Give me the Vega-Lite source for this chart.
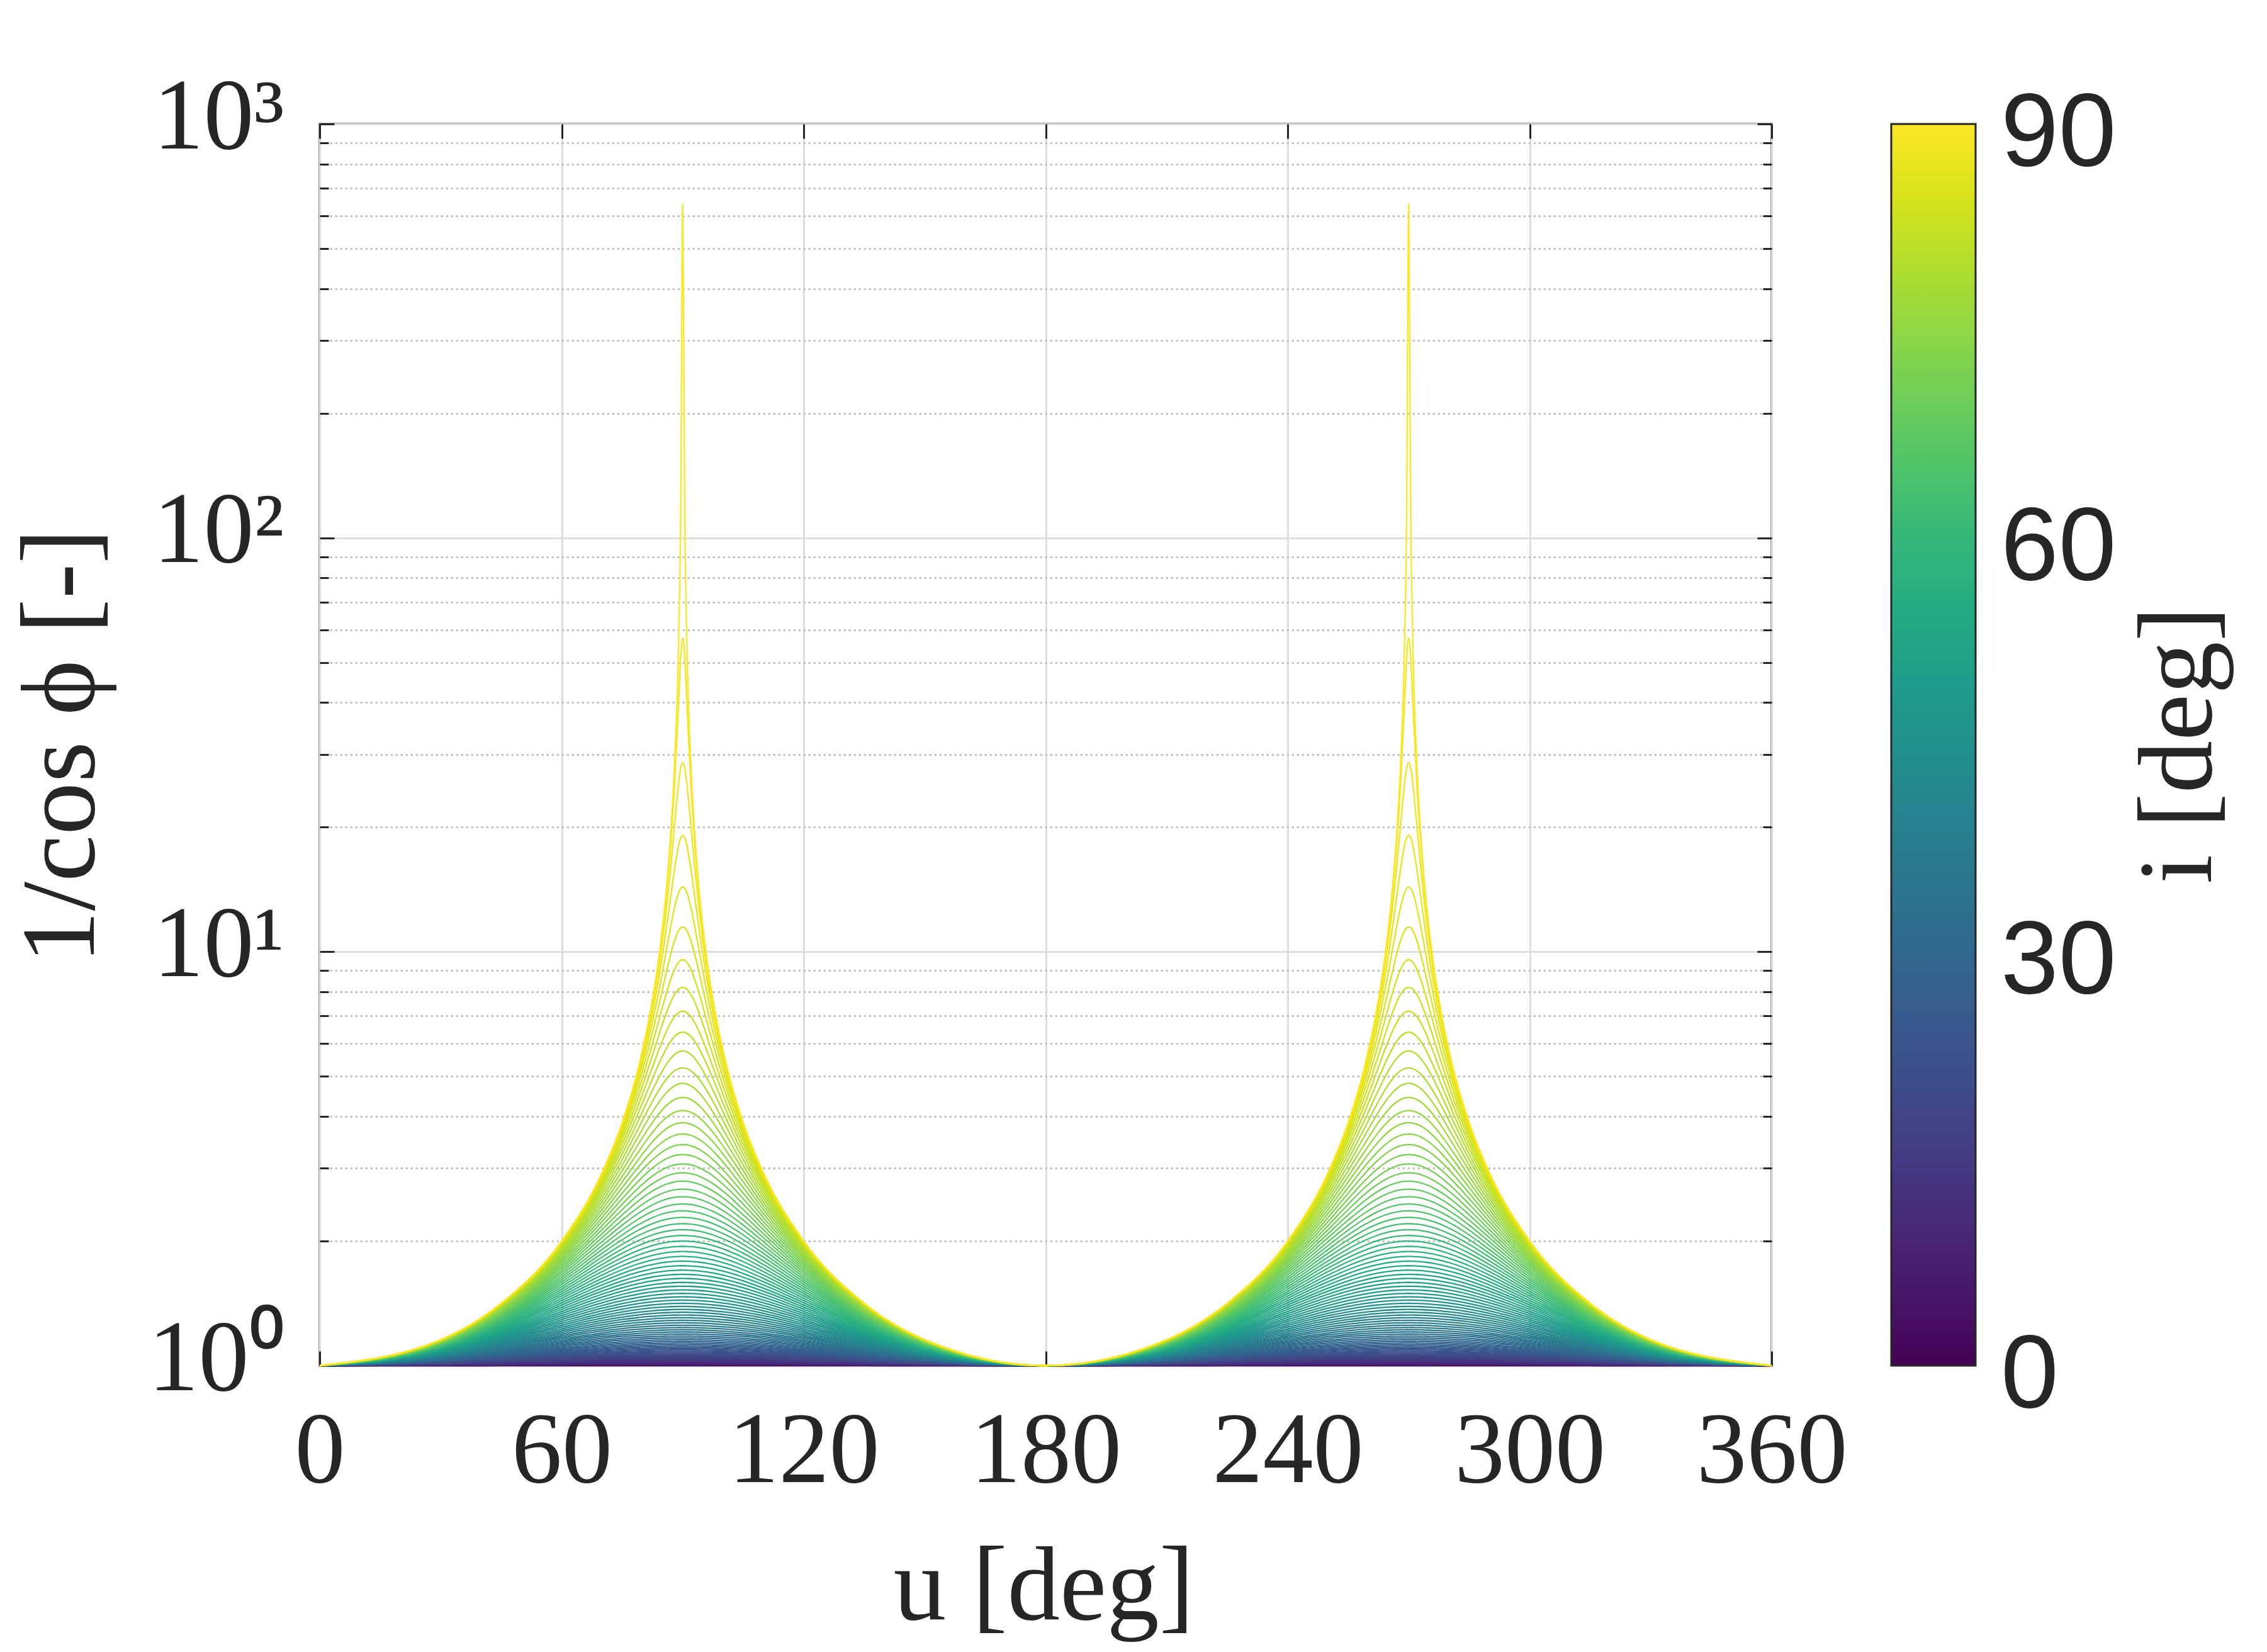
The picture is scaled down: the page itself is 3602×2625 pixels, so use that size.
{
  "$schema": "https://vega.github.io/schema/vega-lite/v6.json",
  "width": 2307,
  "height": 1973,
  "autosize": {"type": "none"},
  "padding": {"left": 508, "top": 197, "right": 787, "bottom": 455},
  "background": "white",
  "layer": [
    {
      "data": {
        "values": [
          {"a":90,"b":null,"c":270,"d":null,"0":1,"1":1.0002,"2":1.0006,"3":1.0014,"4":1.0024,"5":1.0038,"6":1.0055,"7":1.0075,"8":1.0098,"9":1.0125,"10":1.0154,"11":1.0187,"12":1.0223,"13":1.0263,"14":1.0306,"15":1.0353,"16":1.0403,"17":1.0457,"18":1.0515,"19":1.0576,"20":1.0642,"21":1.0711,"22":1.0785,"23":1.0864,"24":1.0946,"25":1.1034,"26":1.1126,"27":1.1223,"28":1.1326,"29":1.1434,"30":1.1547,"31":1.1666,"32":1.1792,"33":1.1924,"34":1.2062,"35":1.2208,"36":1.2361,"37":1.2521,"38":1.269,"39":1.2868,"40":1.3054,"41":1.325,"42":1.3456,"43":1.3673,"44":1.3902,"45":1.4142,"46":1.4396,"47":1.4663,"48":1.4945,"49":1.5243,"50":1.5557,"51":1.589,"52":1.6243,"53":1.6616,"54":1.7013,"55":1.7434,"56":1.7883,"57":1.8361,"58":1.8871,"59":1.9416,"60":2,"61":2.0627,"62":2.1301,"63":2.2027,"64":2.2812,"65":2.3662,"66":2.4586,"67":2.5593,"68":2.6695,"69":2.7904,"70":2.9238,"71":3.0716,"72":3.2361,"73":3.4203,"74":3.628,"75":3.8637,"76":4.1336,"77":4.4454,"78":4.8097,"79":5.2408,"80":5.7588,"81":6.3925,"82":7.1853,"83":8.2055,"84":9.5668,"85":11.474,"86":14.336,"87":19.107,"88":28.654,"89":57.299,"90":640},
          {"a":89.5,"b":90.5,"c":269.5,"d":270.5,"0":1,"1":1.0002,"2":1.0006,"3":1.0014,"4":1.0024,"5":1.0038,"6":1.0055,"7":1.0075,"8":1.0098,"9":1.0125,"10":1.0154,"11":1.0187,"12":1.0223,"13":1.0263,"14":1.0306,"15":1.0353,"16":1.0403,"17":1.0457,"18":1.0515,"19":1.0576,"20":1.0642,"21":1.0711,"22":1.0785,"23":1.0864,"24":1.0946,"25":1.1034,"26":1.1126,"27":1.1223,"28":1.1326,"29":1.1433,"30":1.1547,"31":1.1666,"32":1.1792,"33":1.1923,"34":1.2062,"35":1.2208,"36":1.236,"37":1.2521,"38":1.269,"39":1.2867,"40":1.3054,"41":1.325,"42":1.3456,"43":1.3673,"44":1.3901,"45":1.4142,"46":1.4395,"47":1.4662,"48":1.4944,"49":1.5242,"50":1.5556,"51":1.5889,"52":1.6242,"53":1.6615,"54":1.7012,"55":1.7433,"56":1.7881,"57":1.8359,"58":1.8869,"59":1.9414,"60":1.9998,"61":2.0624,"62":2.1298,"63":2.2024,"64":2.2808,"65":2.3658,"66":2.4581,"67":2.5588,"68":2.6688,"69":2.7897,"70":2.923,"71":3.0706,"72":3.2349,"73":3.4189,"74":3.6263,"75":3.8617,"76":4.131,"77":4.4422,"78":4.8057,"79":5.2356,"80":5.7517,"81":6.3828,"82":7.1715,"83":8.1849,"84":9.534,"85":11.417,"86":14.225,"87":18.848,"88":27.799,"89":51.251,"90":114.59},
          {"a":89,"b":91,"c":269,"d":271,"0":1,"1":1.0002,"2":1.0006,"3":1.0014,"4":1.0024,"5":1.0038,"6":1.0055,"7":1.0075,"8":1.0098,"9":1.0125,"10":1.0154,"11":1.0187,"12":1.0223,"13":1.0263,"14":1.0306,"15":1.0353,"16":1.0403,"17":1.0457,"18":1.0515,"19":1.0576,"20":1.0642,"21":1.0711,"22":1.0785,"23":1.0863,"24":1.0946,"25":1.1033,"26":1.1126,"27":1.1223,"28":1.1325,"29":1.1433,"30":1.1546,"31":1.1666,"32":1.1791,"33":1.1923,"34":1.2061,"35":1.2207,"36":1.236,"37":1.252,"38":1.2689,"39":1.2866,"40":1.3053,"41":1.3249,"42":1.3455,"43":1.3671,"44":1.39,"45":1.414,"46":1.4393,"47":1.466,"48":1.4942,"49":1.5239,"50":1.5554,"51":1.5886,"52":1.6239,"53":1.6612,"54":1.7008,"55":1.7429,"56":1.7877,"57":1.8354,"58":1.8863,"59":1.9408,"60":1.9991,"61":2.0616,"62":2.1289,"63":2.2014,"64":2.2797,"65":2.3645,"66":2.4567,"67":2.5571,"68":2.667,"69":2.7875,"70":2.9205,"71":3.0676,"72":3.2314,"73":3.4147,"74":3.6213,"75":3.8555,"76":4.1235,"77":4.4328,"78":4.7936,"79":5.2198,"80":5.7308,"81":6.354,"82":7.1305,"83":8.1238,"84":9.4375,"85":11.252,"86":13.909,"87":18.129,"88":25.631,"89":40.519,"90":57.299},
          {"a":88,"b":92,"c":268,"d":272,"0":1,"1":1.0002,"2":1.0006,"3":1.0014,"4":1.0024,"5":1.0038,"6":1.0055,"7":1.0075,"8":1.0098,"9":1.0124,"10":1.0154,"11":1.0187,"12":1.0223,"13":1.0263,"14":1.0306,"15":1.0352,"16":1.0402,"17":1.0456,"18":1.0514,"19":1.0575,"20":1.0641,"21":1.071,"22":1.0784,"23":1.0862,"24":1.0945,"25":1.1032,"26":1.1124,"27":1.1221,"28":1.1324,"29":1.1431,"30":1.1545,"31":1.1664,"32":1.1789,"33":1.1921,"34":1.2059,"35":1.2204,"36":1.2357,"37":1.2517,"38":1.2685,"39":1.2862,"40":1.3048,"41":1.3244,"42":1.345,"43":1.3666,"44":1.3894,"45":1.4134,"46":1.4386,"47":1.4653,"48":1.4934,"49":1.523,"50":1.5544,"51":1.5875,"52":1.6227,"53":1.6599,"54":1.6993,"55":1.7413,"56":1.7859,"57":1.8334,"58":1.8841,"59":1.9383,"60":1.9964,"61":2.0586,"62":2.1255,"63":2.1975,"64":2.2754,"65":2.3596,"66":2.4511,"67":2.5507,"68":2.6596,"69":2.779,"70":2.9105,"71":3.0559,"72":3.2177,"73":3.3984,"74":3.6015,"75":3.8313,"76":4.0937,"77":4.3955,"78":4.7462,"79":5.1584,"80":5.6492,"81":6.2427,"82":6.9735,"83":7.8929,"84":9.0794,"85":10.657,"86":12.827,"87":15.904,"88":20.267,"89":25.631,"90":28.654},
          {"a":87,"b":93,"c":267,"d":273,"0":1,"1":1.0002,"2":1.0006,"3":1.0014,"4":1.0024,"5":1.0038,"6":1.0055,"7":1.0075,"8":1.0098,"9":1.0124,"10":1.0154,"11":1.0187,"12":1.0223,"13":1.0262,"14":1.0305,"15":1.0352,"16":1.0402,"17":1.0456,"18":1.0513,"19":1.0574,"20":1.064,"21":1.0709,"22":1.0783,"23":1.0861,"24":1.0943,"25":1.103,"26":1.1122,"27":1.1219,"28":1.1321,"29":1.1429,"30":1.1542,"31":1.1661,"32":1.1785,"33":1.1917,"34":1.2055,"35":1.22,"36":1.2352,"37":1.2512,"38":1.268,"39":1.2856,"40":1.3041,"41":1.3236,"42":1.3441,"43":1.3657,"44":1.3884,"45":1.4123,"46":1.4374,"47":1.464,"48":1.492,"49":1.5215,"50":1.5527,"51":1.5857,"52":1.6206,"53":1.6577,"54":1.6969,"55":1.7386,"56":1.7829,"57":1.8301,"58":1.8805,"59":1.9343,"60":1.9918,"61":2.0535,"62":2.1198,"63":2.1912,"64":2.2682,"65":2.3515,"66":2.4418,"67":2.5401,"68":2.6474,"69":2.7649,"70":2.8941,"71":3.0367,"72":3.1949,"73":3.3713,"74":3.569,"75":3.7921,"76":4.0454,"77":4.3354,"78":4.6703,"79":5.0606,"80":5.5207,"81":6.0697,"82":6.7336,"83":7.5484,"84":8.5638,"85":9.846,"86":11.477,"87":13.52,"88":15.904,"89":18.129,"90":19.107},
          {"a":86,"b":94,"c":266,"d":274,"0":1,"1":1.0002,"2":1.0006,"3":1.0014,"4":1.0024,"5":1.0038,"6":1.0055,"7":1.0075,"8":1.0098,"9":1.0124,"10":1.0154,"11":1.0186,"12":1.0222,"13":1.0262,"14":1.0305,"15":1.0351,"16":1.0401,"17":1.0455,"18":1.0512,"19":1.0573,"20":1.0638,"21":1.0708,"22":1.0781,"23":1.0859,"24":1.0941,"25":1.1028,"26":1.112,"27":1.1216,"28":1.1318,"29":1.1425,"30":1.1538,"31":1.1656,"32":1.1781,"33":1.1911,"34":1.2049,"35":1.2193,"36":1.2345,"37":1.2504,"38":1.2671,"39":1.2847,"40":1.3032,"41":1.3226,"42":1.343,"43":1.3644,"44":1.387,"45":1.4108,"46":1.4358,"47":1.4622,"48":1.49,"49":1.5194,"50":1.5504,"51":1.5832,"52":1.6178,"53":1.6546,"54":1.6935,"55":1.7349,"56":1.7788,"57":1.8256,"58":1.8755,"59":1.9287,"60":1.9856,"61":2.0465,"62":2.1119,"63":2.1824,"64":2.2582,"65":2.3402,"66":2.429,"67":2.5254,"68":2.6306,"69":2.7455,"70":2.8716,"71":3.0104,"72":3.164,"73":3.3346,"74":3.5252,"75":3.7391,"76":3.9807,"77":4.2554,"78":4.5699,"79":4.9328,"80":5.355,"81":5.8477,"82":6.4361,"83":7.1345,"84":7.971,"85":8.971,"86":10.149,"87":11.477,"88":12.827,"89":13.909,"90":14.336},
          {"a":84,"b":96,"c":264,"d":276,"0":1,"1":1.0002,"2":1.0006,"3":1.0014,"4":1.0024,"5":1.0038,"6":1.0055,"7":1.0074,"8":1.0097,"9":1.0123,"10":1.0153,"11":1.0185,"12":1.0221,"13":1.026,"14":1.0303,"15":1.0349,"16":1.0398,"17":1.0452,"18":1.0509,"19":1.0569,"20":1.0634,"21":1.0703,"22":1.0776,"23":1.0853,"24":1.0935,"25":1.1021,"26":1.1112,"27":1.1207,"28":1.1308,"29":1.1414,"30":1.1526,"31":1.1643,"32":1.1767,"33":1.1896,"34":1.2032,"35":1.2175,"36":1.2325,"37":1.2483,"38":1.2648,"39":1.2822,"40":1.3004,"41":1.3196,"42":1.3397,"43":1.3609,"44":1.3831,"45":1.4066,"46":1.4312,"47":1.4572,"48":1.4845,"49":1.5134,"50":1.5438,"51":1.5759,"52":1.6099,"53":1.6459,"54":1.684,"55":1.7243,"56":1.7672,"57":1.8127,"58":1.8612,"59":1.9129,"60":1.968,"61":2.0269,"62":2.0901,"63":2.1578,"64":2.2305,"65":2.3089,"66":2.3935,"67":2.4851,"68":2.5844,"69":2.6924,"70":2.8102,"71":2.9391,"72":3.0806,"73":3.2364,"74":3.4085,"75":3.5995,"76":3.8121,"77":4.0497,"78":4.3161,"79":4.6158,"80":4.9538,"81":5.3353,"82":5.7655,"83":6.2482,"84":6.7833,"85":7.364,"86":7.971,"87":8.564,"88":9.079,"89":9.438,"90":9.567},
          {"a":82,"b":98,"c":262,"d":278,"0":1,"1":1.0002,"2":1.0006,"3":1.0013,"4":1.0024,"5":1.0037,"6":1.0054,"7":1.0074,"8":1.0096,"9":1.0122,"10":1.0151,"11":1.0183,"12":1.0219,"13":1.0258,"14":1.03,"15":1.0346,"16":1.0395,"17":1.0447,"18":1.0504,"19":1.0564,"20":1.0628,"21":1.0696,"22":1.0768,"23":1.0845,"24":1.0925,"25":1.1011,"26":1.11,"27":1.1195,"28":1.1295,"29":1.14,"30":1.151,"31":1.1626,"32":1.1747,"33":1.1875,"34":1.2009,"35":1.215,"36":1.2298,"37":1.2453,"38":1.2616,"39":1.2787,"40":1.2966,"41":1.3154,"42":1.3352,"43":1.3553,"44":1.3778,"45":1.4007,"46":1.4248,"47":1.4502,"48":1.4769,"49":1.5051,"50":1.5348,"51":1.5661,"52":1.5991,"53":1.634,"54":1.6709,"55":1.71,"56":1.7514,"57":1.7953,"58":1.8419,"59":1.8915,"60":1.9443,"61":2.0006,"62":2.0606,"63":2.1248,"64":2.1936,"65":2.2674,"66":2.3466,"67":2.4319,"68":2.5239,"69":2.6233,"70":2.731,"71":2.8477,"72":2.9747,"73":3.1129,"74":3.2638,"75":3.4288,"76":3.6093,"77":3.8071,"78":4.024,"79":4.2612,"80":4.5204,"81":4.802,"82":5.1056,"83":5.4286,"84":5.7654,"85":6.106,"86":6.436,"87":6.734,"88":6.973,"89":7.131,"90":7.185},
          {"a":79,"b":101,"c":259,"d":281,"0":1,"1":1.0002,"2":1.0006,"3":1.0013,"4":1.0024,"5":1.0037,"6":1.0053,"7":1.0072,"8":1.0095,"9":1.012,"10":1.0149,"11":1.018,"12":1.0215,"13":1.0253,"14":1.0294,"15":1.0339,"16":1.0387,"17":1.0439,"18":1.0494,"19":1.0553,"20":1.0616,"21":1.0683,"22":1.0753,"23":1.0828,"24":1.0907,"25":1.099,"26":1.1078,"27":1.1171,"28":1.1268,"29":1.137,"30":1.1478,"31":1.159,"32":1.1709,"33":1.1833,"34":1.1964,"35":1.21,"36":1.2244,"37":1.2394,"38":1.2551,"39":1.2717,"40":1.289,"41":1.3072,"42":1.3262,"43":1.3462,"44":1.3672,"45":1.3891,"46":1.4123,"47":1.4365,"48":1.462,"49":1.4888,"50":1.517,"51":1.5467,"52":1.5779,"53":1.6108,"54":1.6455,"55":1.6821,"56":1.7208,"57":1.7616,"58":1.8048,"59":1.8505,"60":1.899,"61":1.9503,"62":2.0049,"63":2.0628,"64":2.1244,"65":2.19,"66":2.2598,"67":2.3343,"68":2.4138,"69":2.4988,"70":2.5895,"71":2.6866,"72":2.7905,"73":2.9016,"74":3.0204,"75":3.1473,"76":3.2826,"77":3.4266,"78":3.5792,"79":3.74,"80":3.9075,"81":4.0829,"82":4.2612,"83":4.4403,"84":4.6158,"85":4.782,"86":4.933,"87":5.061,"88":5.158,"89":5.22,"90":5.241},
          {"a":75,"b":105,"c":255,"d":285,"0":1,"1":1.0002,"2":1.0006,"3":1.0013,"4":1.0023,"5":1.0036,"6":1.0051,"7":1.007,"8":1.0092,"9":1.0116,"10":1.0144,"11":1.0174,"12":1.0208,"13":1.0245,"14":1.0285,"15":1.0328,"16":1.0374,"17":1.0424,"18":1.0478,"19":1.0534,"20":1.0595,"21":1.0659,"22":1.0727,"23":1.0799,"24":1.0874,"25":1.0954,"26":1.1038,"27":1.1127,"28":1.122,"29":1.1318,"30":1.142,"31":1.1528,"32":1.1641,"33":1.1759,"34":1.1882,"35":1.2012,"36":1.2148,"37":1.229,"38":1.2438,"39":1.2594,"40":1.2757,"41":1.2927,"42":1.3105,"43":1.3292,"44":1.3487,"45":1.3691,"46":1.3905,"47":1.4129,"48":1.4363,"49":1.4609,"50":1.4866,"51":1.5136,"52":1.5419,"53":1.5715,"54":1.6026,"55":1.6353,"56":1.6696,"57":1.7056,"58":1.7434,"59":1.7832,"60":1.825,"61":1.869,"62":1.9152,"63":1.9639,"64":2.015,"65":2.0689,"66":2.1255,"67":2.1851,"68":2.2478,"69":2.3136,"70":2.3828,"71":2.4553,"72":2.5312,"73":2.6105,"74":2.6931,"75":2.779,"76":2.8678,"77":2.9592,"78":3.0525,"79":3.1473,"80":3.2424,"81":3.3367,"82":3.4288,"83":3.517,"84":3.5995,"85":3.674,"86":3.739,"87":3.792,"88":3.831,"89":3.856,"90":3.864},
          {"a":70,"b":110,"c":250,"d":290,"0":1,"1":1.0001,"2":1.0005,"3":1.0012,"4":1.0022,"5":1.0034,"6":1.0049,"7":1.0066,"8":1.0087,"9":1.011,"10":1.0136,"11":1.0165,"12":1.0196,"13":1.0231,"14":1.0269,"15":1.031,"16":1.0353,"17":1.04,"18":1.045,"19":1.0504,"20":1.056,"21":1.062,"22":1.0684,"23":1.0751,"24":1.0822,"25":1.0896,"26":1.0974,"27":1.1057,"28":1.1143,"29":1.1233,"30":1.1328,"31":1.1428,"32":1.1531,"33":1.164,"34":1.1753,"35":1.1872,"36":1.1996,"37":1.2125,"38":1.226,"39":1.2401,"40":1.2548,"41":1.2701,"42":1.286,"43":1.3027,"44":1.32,"45":1.3381,"46":1.357,"47":1.3766,"48":1.3971,"49":1.4184,"50":1.4406,"51":1.4638,"52":1.4879,"53":1.5131,"54":1.5393,"55":1.5666,"56":1.595,"57":1.6245,"58":1.6553,"59":1.6874,"60":1.7207,"61":1.7554,"62":1.7914,"63":1.8289,"64":1.8677,"65":1.908,"66":1.9497,"67":1.9929,"68":2.0375,"69":2.0834,"70":2.1307,"71":2.1792,"72":2.2289,"73":2.2795,"74":2.3308,"75":2.3828,"76":2.435,"77":2.4871,"78":2.5388,"79":2.5895,"80":2.6389,"81":2.6862,"82":2.731,"83":2.7725,"84":2.8102,"85":2.843,"86":2.872,"87":2.894,"88":2.91,"89":2.92,"90":2.924},
          {"a":60,"b":120,"c":240,"d":300,"0":1,"1":1.0001,"2":1.0005,"3":1.001,"4":1.0018,"5":1.0029,"6":1.0041,"7":1.0056,"8":1.0073,"9":1.0093,"10":1.0115,"11":1.0139,"12":1.0166,"13":1.0195,"14":1.0227,"15":1.0261,"16":1.0298,"17":1.0337,"18":1.0379,"19":1.0423,"20":1.047,"21":1.0519,"22":1.0572,"23":1.0627,"24":1.0685,"25":1.0746,"26":1.0809,"27":1.0876,"28":1.0945,"29":1.1018,"30":1.1094,"31":1.1173,"32":1.1255,"33":1.1341,"34":1.143,"35":1.1522,"36":1.1618,"37":1.1717,"38":1.182,"39":1.1927,"40":1.2038,"41":1.2152,"42":1.227,"43":1.2392,"44":1.2519,"45":1.2649,"46":1.2784,"47":1.2922,"48":1.3065,"49":1.3213,"50":1.3364,"51":1.3521,"52":1.3681,"53":1.3846,"54":1.4015,"55":1.4188,"56":1.4366,"57":1.4548,"58":1.4734,"59":1.4925,"60":1.5119,"61":1.5316,"62":1.5517,"63":1.5722,"64":1.5929,"65":1.6138,"66":1.635,"67":1.6563,"68":1.6778,"69":1.6993,"70":1.7207,"71":1.7421,"72":1.7633,"73":1.7843,"74":1.8049,"75":1.825,"76":1.8446,"77":1.8635,"78":1.8817,"79":1.899,"80":1.9152,"81":1.9304,"82":1.9443,"83":1.9569,"84":1.968,"85":1.978,"86":1.986,"87":1.992,"88":1.996,"89":1.999,"90":2},
          {"a":45,"b":135,"c":225,"d":315,"0":1,"1":1.0001,"2":1.0003,"3":1.0007,"4":1.0012,"5":1.0019,"6":1.0027,"7":1.0037,"8":1.0049,"9":1.0062,"10":1.0076,"11":1.0092,"12":1.011,"13":1.0129,"14":1.015,"15":1.0172,"16":1.0196,"17":1.0221,"18":1.0248,"19":1.0276,"20":1.0306,"21":1.0337,"22":1.037,"23":1.0405,"24":1.0441,"25":1.0479,"26":1.0518,"27":1.0559,"28":1.0601,"29":1.0645,"30":1.069,"31":1.0737,"32":1.0786,"33":1.0836,"34":1.0887,"35":1.094,"36":1.0995,"37":1.1051,"38":1.1108,"39":1.1167,"40":1.1227,"41":1.1288,"42":1.1351,"43":1.1415,"44":1.148,"45":1.1547,"46":1.1615,"47":1.1684,"48":1.1754,"49":1.1825,"50":1.1896,"51":1.1969,"52":1.2043,"53":1.2117,"54":1.2192,"55":1.2267,"56":1.2343,"57":1.242,"58":1.2496,"59":1.2573,"60":1.2649,"61":1.2725,"62":1.2802,"63":1.2877,"64":1.2952,"65":1.3027,"66":1.31,"67":1.3172,"68":1.3243,"69":1.3313,"70":1.3381,"71":1.3447,"72":1.3512,"73":1.3574,"74":1.3634,"75":1.3691,"76":1.3746,"77":1.3797,"78":1.3846,"79":1.3891,"80":1.3934,"81":1.3972,"82":1.4007,"83":1.4038,"84":1.4066,"85":1.409,"86":1.411,"87":1.412,"88":1.413,"89":1.414,"90":1.4142},
          {"a":30,"b":150,"c":210,"d":330,"0":1,"1":1,"2":1.0002,"3":1.0003,"4":1.0006,"5":1.0009,"6":1.0014,"7":1.0019,"8":1.0024,"9":1.0031,"10":1.0038,"11":1.0046,"12":1.0054,"13":1.0064,"14":1.0074,"15":1.0085,"16":1.0096,"17":1.0109,"18":1.0122,"19":1.0135,"20":1.015,"21":1.0165,"22":1.018,"23":1.0196,"24":1.0213,"25":1.0231,"26":1.0249,"27":1.0268,"28":1.0287,"29":1.0307,"30":1.0328,"31":1.0349,"32":1.0371,"33":1.0393,"34":1.0415,"35":1.0438,"36":1.0462,"37":1.0486,"38":1.051,"39":1.0535,"40":1.056,"41":1.0586,"42":1.0612,"43":1.0638,"44":1.0664,"45":1.069,"46":1.0717,"47":1.0744,"48":1.0771,"49":1.0798,"50":1.0826,"51":1.0853,"52":1.088,"53":1.0907,"54":1.0935,"55":1.0962,"56":1.0989,"57":1.1015,"58":1.1042,"59":1.1068,"60":1.1094,"61":1.112,"62":1.1145,"63":1.117,"64":1.1194,"65":1.1218,"66":1.1241,"67":1.1264,"68":1.1286,"69":1.1307,"70":1.1328,"71":1.1348,"72":1.1368,"73":1.1386,"74":1.1403,"75":1.142,"76":1.1436,"77":1.1451,"78":1.1465,"79":1.1478,"80":1.1489,"81":1.15,"82":1.151,"83":1.1518,"84":1.1526,"85":1.1532,"86":1.1538,"87":1.1542,"88":1.1545,"89":1.1546,"90":1.1547},
          {"a":0,"b":180,"c":null,"d":360,"0":1,"1":1,"2":1,"3":1,"4":1,"5":1,"6":1,"7":1,"8":1,"9":1,"10":1,"11":1,"12":1,"13":1,"14":1,"15":1,"16":1,"17":1,"18":1,"19":1,"20":1,"21":1,"22":1,"23":1,"24":1,"25":1,"26":1,"27":1,"28":1,"29":1,"30":1,"31":1,"32":1,"33":1,"34":1,"35":1,"36":1,"37":1,"38":1,"39":1,"40":1,"41":1,"42":1,"43":1,"44":1,"45":1,"46":1,"47":1,"48":1,"49":1,"50":1,"51":1,"52":1,"53":1,"54":1,"55":1,"56":1,"57":1,"58":1,"59":1,"60":1,"61":1,"62":1,"63":1,"64":1,"65":1,"66":1,"67":1,"68":1,"69":1,"70":1,"71":1,"72":1,"73":1,"74":1,"75":1,"76":1,"77":1,"78":1,"79":1,"80":1,"81":1,"82":1,"83":1,"84":1,"85":1,"86":1,"87":1,"88":1,"89":1,"90":1}
        ]
      },
      "transform": [
        {"fold": ["a", "b", "c", "d"], "as": ["q", "u"]},
        {"filter": {"field": "u", "valid": true}},
        {"fold": ["0","1","2","3","4","5","6","7","8","9","10","11","12","13","14","15","16","17","18","19","20","21","22","23","24","25","26","27","28","29","30","31","32","33","34","35","36","37","38","39","40","41","42","43","44","45","46","47","48","49","50","51","52","53","54","55","56","57","58","59","60","61","62","63","64","65","66","67","68","69","70","71","72","73","74","75","76","77","78","79","80","81","82","83","84","85","86","87","88","89","90"], "as": ["k", "y"]}
      ],
      "mark": {"type": "line", "interpolate": "monotone", "strokeWidth": 2.3},
      "encoding": {
        "x": {
          "field": "u", "type": "quantitative",
          "scale": {"domain": [0, 360], "nice": false, "zero": false},
          "axis": {
            "orient": "bottom",
            "values": [0, 60, 120, 180, 240, 300, 360],
            "grid": true, "gridColor": "#dedede", "gridWidth": 3,
            "tickSize": -23,
            "labelPadding": 81, "labelFontSize": 160, "labelFont": "Liberation Serif",
            "labelFlush": false, "labelOverlap": false, "labelLimit": 1000,
            "title": "u [deg]", "titleFont": "Liberation Serif", "titleFontSize": 167,
            "titleFontWeight": "normal", "titleX": 1150, "titleY": 352,
            "titleAlign": "center", "titleBaseline": "middle", "titleLimit": 3000
          }
        },
        "y": {
          "field": "y", "type": "quantitative",
          "scale": {"type": "log", "domain": [1, 1000], "nice": false},
          "axis": {
            "orient": "left",
            "values": [1,2,3,4,5,6,7,8,9,10,20,30,40,50,60,70,80,90,100,200,300,400,500,600,700,800,900,1000],
            "labelExpr": "datum.value == 1 ? '10⁰' : datum.value == 10 ? '10¹' : datum.value == 100 ? '10²' : datum.value == 1000 ? '10³' : ''",
            "grid": true,
            "gridColor": {"condition": {"test": "datum.value == 1 || datum.value == 10 || datum.value == 100 || datum.value == 1000", "value": "#dedede"}, "value": "#c4c4c4"},
            "gridDash": {"condition": {"test": "datum.value == 1 || datum.value == 10 || datum.value == 100 || datum.value == 1000", "value": []}, "value": [3.5, 4.5]},
            "gridWidth": 3,
            "tickSize": {"condition": {"test": "datum.value == 1 || datum.value == 10 || datum.value == 100 || datum.value == 1000", "value": -23}, "value": -14},
            "labelPadding": 80, "labelOffset": -10, "labelFontSize": 160, "labelFont": "Liberation Serif",
            "labelFlush": false, "labelOverlap": false, "labelLimit": 1000,
            "title": "1/cos ϕ [-]", "titleFont": "Liberation Serif", "titleFontSize": 167,
            "titleFontWeight": "normal", "titleAngle": 270, "titleX": -410, "titleY": 988,
            "titleAlign": "center", "titleBaseline": "middle", "titleLimit": 3000
          }
        },
        "color": {
          "field": "k", "type": "quantitative",
          "scale": {"scheme": "viridis", "domain": [0, 90]},
          "legend": {
            "type": "gradient", "orient": "none", "legendX": 2497, "legendY": 0,
            "direction": "vertical", "padding": 0,
            "gradientLength": 1973, "gradientThickness": 134,
            "gradientStrokeColor": "#262626", "gradientStrokeWidth": 3,
            "values": [0, 30, 60, 90], "format": "d",
            "labelFont": "Liberation Sans", "labelFontSize": 165, "labelColor": "#262626",
            "labelOffset": 40, "labelOverlap": false, "labelLimit": 1000,
            "title": "i [deg]", "titleFont": "Liberation Serif", "titleFontSize": 167,
            "titleFontWeight": "normal", "titleColor": "#262626",
            "titleOrient": "right", "titleAnchor": "middle",
            "titleAlign": "center", "titleBaseline": "middle", "titlePadding": 100, "titleLimit": 3000,
            "encode": {
              "labels": {"update": {"baseline": {"value": "middle"}, "dy": {"value": 16}}},
              "title": {"update": {"angle": {"value": 270}}}
            }
          }
        },
        "detail": {"field": "k", "type": "nominal"}
      }
    },
    {
      "data": {"values": [{"p": 0, "r": 1}]},
      "mark": {"type": "point", "opacity": 0, "size": 1},
      "encoding": {
        "x": {
          "field": "p", "type": "quantitative",
          "scale": {"domain": [0, 360], "nice": false, "zero": false},
          "axis": {
            "orient": "top", "values": [0, 60, 120, 180, 240, 300, 360],
            "labels": false, "grid": false, "tickSize": -23, "title": null
          }
        },
        "y": {
          "field": "r", "type": "quantitative",
          "scale": {"type": "log", "domain": [1, 1000], "nice": false},
          "axis": {
            "orient": "right",
            "values": [1,2,3,4,5,6,7,8,9,10,20,30,40,50,60,70,80,90,100,200,300,400,500,600,700,800,900,1000],
            "labels": false, "grid": false, "title": null,
            "tickSize": {"condition": {"test": "datum.value == 1 || datum.value == 10 || datum.value == 100 || datum.value == 1000", "value": -23}, "value": -14}
          }
        }
      }
    }
  ],
  "resolve": {
    "scale": {"x": "independent", "y": "independent"},
    "axis": {"x": "independent", "y": "independent"}
  },
  "config": {
    "font": "Liberation Serif",
    "view": {"stroke": "#262626", "strokeWidth": 3},
    "axis": {
      "domain": false,
      "tickColor": "#262626", "tickWidth": 3,
      "labelColor": "#262626", "titleColor": "#262626"
    }
  }
}
